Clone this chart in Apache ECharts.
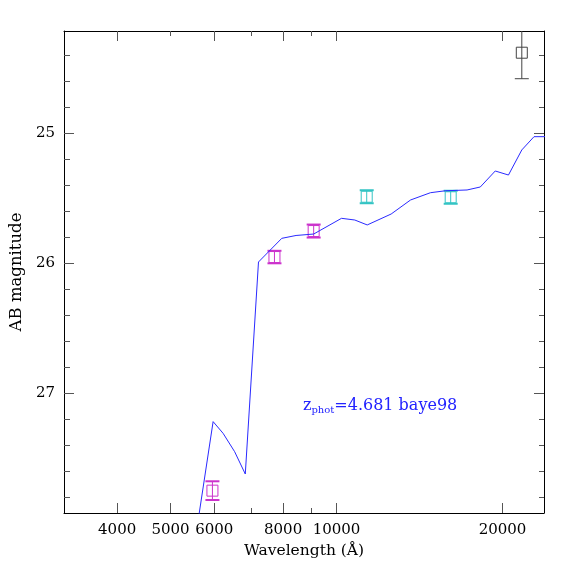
<!DOCTYPE html>
<html>
<head>
<meta charset="utf-8">
<script src="https://cdn.jsdelivr.net/npm/echarts@6/dist/echarts.min.js"></script>
<style>html,body{margin:0;padding:0;background:#fff}#c{width:574px;height:574px}</style>
</head>
<body>
<div id="c"></div>
<script>
// ---- data ----
const modelLambda = [5343, 5972, 6226, 6533, 6831, 7218, 7955, 8444, 9088, 10209, 10791, 11366, 12560, 13620, 14800, 15755, 17245, 18225, 19399, 20500, 21675, 22808, 24500];
const modelMag    = [28.57, 27.218, 27.308, 27.449, 27.621, 25.99, 25.808, 25.786, 25.775, 25.654, 25.667, 25.705, 25.621, 25.513, 25.457, 25.442, 25.436, 25.413, 25.29, 25.321, 25.128, 25.026, 25.026];

const magentaLambda = [5955, 7716, 9088];
const magentaMag    = [27.749, 25.952, 25.752];
const magentaErr    = [0.072, 0.048, 0.05];

const cyanLambda = [11342, 16106];
const cyanMag    = [25.488, 25.492];
const cyanErr    = [0.05, 0.05];

const blackLambda = [21675];
const blackMag    = [24.38];
const blackErr    = [0.2];

const xMin = 3204, xMax = 23780;
const yMin = 24.213, yMax = 27.921;
const xLabelVals   = [4000, 5000, 6000, 8000, 10000, 20000];
const xBottomMajor = [4000, 5000, 6000, 8000, 10000, 20000];
const xBottomMinor = [7000, 9000];
const xTopMajor    = [4000, 6000, 8000, 10000, 20000];
const xTopMinor    = [5000, 7000, 9000];
const yLabelVals   = [25, 26, 27];
const yMinor       = [24.4, 24.6, 24.8, 25.2, 25.4, 25.6, 25.8, 26.2, 26.4, 26.6, 26.8, 27.2, 27.4, 27.6, 27.8];

// ---- chart ----
const FONT = 'DejaVu Serif';
const TICKC = '#555';

function xAx(pos, ticks, len, main) {
  return {
    type: 'log', logBase: 10, min: xMin, max: xMax, position: pos,
    axisLine: { show: !!main, onZero: false, lineStyle: { color: '#000', width: 1 } },
    axisTick: { show: true, inside: true, length: len, customValues: ticks, lineStyle: { color: TICKC, width: 1 } },
    axisLabel: main === 'labels' ? { show: true, customValues: xLabelVals, formatter: v => String(Math.round(v)), margin: 10, fontFamily: FONT, fontSize: 15, color: '#000' } : { show: false },
    splitLine: { show: false }, minorTick: { show: false },
    name: main === 'labels' ? 'Wavelength (Å)' : '',
    nameLocation: 'middle', nameGap: 27,
    nameTextStyle: { fontFamily: FONT, fontSize: 15.5, color: '#000' }
  };
}
function yAx(pos, ticks, len, main) {
  return {
    type: 'value', inverse: true, min: yMin, max: yMax, position: pos,
    axisLine: { show: !!main, onZero: false, lineStyle: { color: '#000', width: 1 } },
    axisTick: { show: true, inside: true, length: len, customValues: ticks, lineStyle: { color: TICKC, width: 1 } },
    axisLabel: main === 'labels' ? { show: true, customValues: yLabelVals, formatter: v => String(Math.round(v)), margin: 9, fontFamily: FONT, fontSize: 15, color: '#000' } : { show: false },
    splitLine: { show: false },
    name: main === 'labels' ? 'AB magnitude' : '',
    nameLocation: 'middle', nameGap: 39,
    nameTextStyle: { fontFamily: FONT, fontSize: 16.5, color: '#000' }
  };
}

function pts(lam, mag, err) { return lam.map((l, i) => [l, mag[i], err[i]]); }

function errRender(color, capLW) {
  return function (params, api) {
    const x = api.value(0), y = api.value(1), e = api.value(2);
    const c = api.coord([x, y]);
    const t = api.coord([x, y - e]);
    const b = api.coord([x, y + e]);
    const cap = 7, sq = 5.5;
    const st = { stroke: color, lineWidth: 1, fill: null };
    return {
      type: 'group',
      children: [
        { type: 'line', shape: { x1: c[0], y1: t[1], x2: c[0], y2: b[1] }, style: st },
        { type: 'line', shape: { x1: c[0] - cap, y1: t[1], x2: c[0] + cap, y2: t[1] }, style: { stroke: color, lineWidth: capLW } },
        { type: 'line', shape: { x1: c[0] - cap, y1: b[1], x2: c[0] + cap, y2: b[1] }, style: { stroke: color, lineWidth: capLW } },
        { type: 'rect', shape: { x: c[0] - sq, y: c[1] - sq, width: 2 * sq, height: 2 * sq }, style: { stroke: color, lineWidth: 1, fill: null } }
      ]
    };
  };
}

const chart = echarts.init(document.getElementById('c'), null, { renderer: 'canvas' });
chart.setOption({
  animation: false,
  backgroundColor: '#fff',
  grid: { left: 62, top: 31, right: 30, bottom: 61, containLabel: false },
  xAxis: [
    xAx('bottom', xBottomMajor, 10, 'labels'),
    xAx('bottom', xBottomMinor, 5, false),
    xAx('top', xTopMajor, 10, 'line'),
    xAx('top', xTopMinor, 5, false)
  ],
  yAxis: [
    yAx('left', yLabelVals, 10, 'labels'),
    yAx('left', yMinor, 6, false),
    yAx('right', yLabelVals, 10, 'line'),
    yAx('right', yMinor, 5, false)
  ],
  series: [
    {
      type: 'line', xAxisIndex: 0, yAxisIndex: 0,
      data: modelLambda.map((l, i) => [l, modelMag[i]]),
      showSymbol: false, clip: true,
      lineStyle: { color: '#2a2aff', width: 1 }, itemStyle: { color: '#2a2aff' }
    },
    { type: 'custom', xAxisIndex: 0, yAxisIndex: 0, clip: true, renderItem: errRender('#cc33cc', 2), data: pts(magentaLambda, magentaMag, magentaErr) },
    { type: 'custom', xAxisIndex: 0, yAxisIndex: 0, clip: true, renderItem: errRender('#33c4c4', 2), data: pts(cyanLambda, cyanMag, cyanErr) },
    { type: 'custom', xAxisIndex: 0, yAxisIndex: 0, clip: true, renderItem: errRender('#444', 1), data: pts(blackLambda, blackMag, blackErr) }
  ],
  graphic: [
    {
      type: 'text', left: 303, top: 398,
      style: {
        text: '{z|z}{s|phot}{z|=4.681 baye98}',
        rich: {
          z: { fontFamily: FONT, fontSize: 16, fill: '#2222ff' },
          s: { fontFamily: FONT, fontSize: 10, fill: '#2222ff', padding: [9, 0, 0, 0] }
        }
      }
    }
  ]
});
</script>
</body>
</html>
